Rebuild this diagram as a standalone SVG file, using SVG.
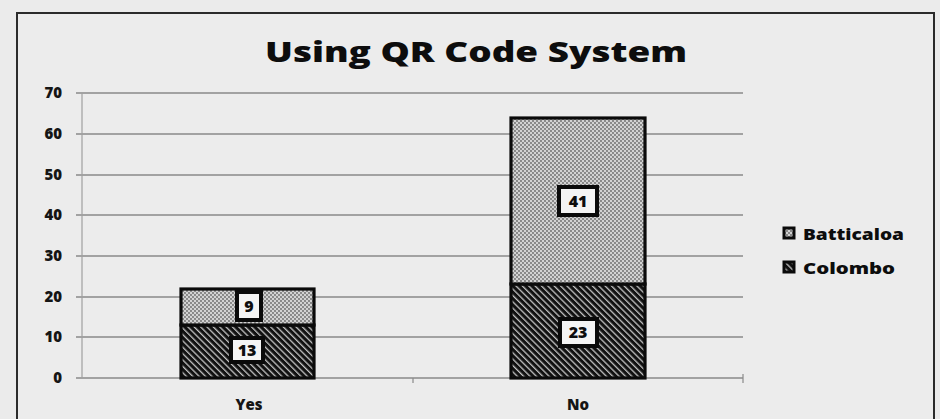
<svg xmlns="http://www.w3.org/2000/svg" width="940" height="419" viewBox="0 0 940 419">
  <style>
    .title { font-family: "Open Sans", "Liberation Sans", sans-serif; font-weight: 800; font-size: 28px; fill: #0d0d0d; }
    .tick { font-family: "Open Sans", "Liberation Sans", sans-serif; font-weight: 800; font-size: 15px; fill: #151515; }
    .cat { font-family: "Open Sans", "Liberation Sans", sans-serif; font-weight: 800; font-size: 15px; fill: #151515; }
    .lbl { font-family: "Open Sans", "Liberation Sans", sans-serif; font-weight: 800; font-size: 16px; fill: #0d0d0d; }
    .leg { font-family: "Open Sans", "Liberation Sans", sans-serif; font-weight: 800; font-size: 16px; fill: #0d0d0d; }
    .grid { stroke: #8a8a8a; stroke-width: 1.3; }
    .bar { stroke: #0a0a0a; stroke-width: 3.2; }
    .box { fill: #f4f4f4; stroke: #0a0a0a; stroke-width: 4; }
  </style>
  <defs>
    <!-- light stipple used for the Batticaloa series -->
    <pattern id="stipple" width="4" height="4" patternUnits="userSpaceOnUse">
      <rect width="4" height="4" fill="#d2d2d2"/>
      <circle cx="1" cy="1" r="0.9" fill="#666"/>
      <circle cx="3" cy="3" r="0.9" fill="#666"/>
    </pattern>
    <!-- dark diagonal hatch used for the Colombo series -->
    <pattern id="hatch" width="4.5" height="4.5" patternUnits="userSpaceOnUse" patternTransform="rotate(-45)">
      <rect width="4.5" height="4.5" fill="#111"/>
      <rect width="1.3" height="4.5" fill="#c4c4c4"/>
    </pattern>
  </defs>

  <!-- page background -->
  <rect width="940" height="419" fill="#ebebeb"/>

  <!-- chart frame -->
  <rect x="17" y="13" width="917" height="420" fill="#ececec" stroke="#2b2b2b" stroke-width="2"/>

  <text class="title" x="476" y="62" text-anchor="middle" textLength="422" lengthAdjust="spacingAndGlyphs">Using QR Code System</text>

  <!-- value axis and gridlines -->
  <g id="axis">
    <line class="grid" x1="76" y1="93" x2="743" y2="93"/>
    <line class="grid" x1="76" y1="134" x2="743" y2="134"/>
    <line class="grid" x1="76" y1="175" x2="743" y2="175"/>
    <line class="grid" x1="76" y1="215" x2="743" y2="215"/>
    <line class="grid" x1="76" y1="256" x2="743" y2="256"/>
    <line class="grid" x1="76" y1="297" x2="743" y2="297"/>
    <line class="grid" x1="76" y1="337" x2="743" y2="337"/>
    <line class="grid" x1="76" y1="378" x2="743" y2="378"/>
    <line x1="82" y1="93" x2="82" y2="378" stroke="#a0a0a0" stroke-width="1.2"/>
    <line x1="413" y1="378" x2="413" y2="383" stroke="#8a8a8a" stroke-width="1.2"/>
    <line x1="743" y1="374" x2="743" y2="383" stroke="#8a8a8a" stroke-width="1.2"/>
    <text class="tick" x="62" y="98" text-anchor="end">70</text>
    <text class="tick" x="62" y="139" text-anchor="end">60</text>
    <text class="tick" x="62" y="180" text-anchor="end">50</text>
    <text class="tick" x="62" y="220" text-anchor="end">40</text>
    <text class="tick" x="62" y="261" text-anchor="end">30</text>
    <text class="tick" x="62" y="302" text-anchor="end">20</text>
    <text class="tick" x="62" y="342" text-anchor="end">10</text>
    <text class="tick" x="62" y="383" text-anchor="end">0</text>
  </g>

  <!-- Yes column -->
  <g id="bar-yes">
    <rect class="bar" x="181" y="325" width="133" height="53" fill="url(#hatch)"/>
    <rect class="bar" x="181" y="289" width="133" height="36" fill="url(#stipple)"/>
    <rect class="box" x="237" y="292" width="24" height="28"/>
    <text class="lbl" x="249" y="312" text-anchor="middle">9</text>
    <rect class="box" x="231" y="338" width="32" height="24"/>
    <text class="lbl" x="247" y="356" text-anchor="middle">13</text>
    <text class="cat" x="249" y="410" text-anchor="middle">Yes</text>
  </g>

  <!-- No column -->
  <g id="bar-no">
    <rect class="bar" x="511" y="284" width="134" height="94" fill="url(#hatch)"/>
    <rect class="bar" x="511" y="118" width="134" height="166" fill="url(#stipple)"/>
    <rect class="box" x="559" y="187" width="38" height="28"/>
    <text class="lbl" x="578" y="207" text-anchor="middle">41</text>
    <rect class="box" x="560" y="319" width="37" height="27"/>
    <text class="lbl" x="578" y="338" text-anchor="middle">23</text>
    <text class="cat" x="578" y="410" text-anchor="middle">No</text>
  </g>

  <!-- legend -->
  <g id="legend">
    <g id="legend-batticaloa">
      <rect x="784" y="228" width="10" height="10" fill="url(#stipple)" stroke="#0a0a0a" stroke-width="3"/>
      <text class="leg" x="803" y="240" textLength="101" lengthAdjust="spacingAndGlyphs">Batticaloa</text>
    </g>
    <g id="legend-colombo">
      <rect x="784" y="262" width="10" height="10" fill="url(#hatch)" stroke="#0a0a0a" stroke-width="3"/>
      <text class="leg" x="803" y="274" textLength="92" lengthAdjust="spacingAndGlyphs">Colombo</text>
    </g>
  </g>
</svg>
